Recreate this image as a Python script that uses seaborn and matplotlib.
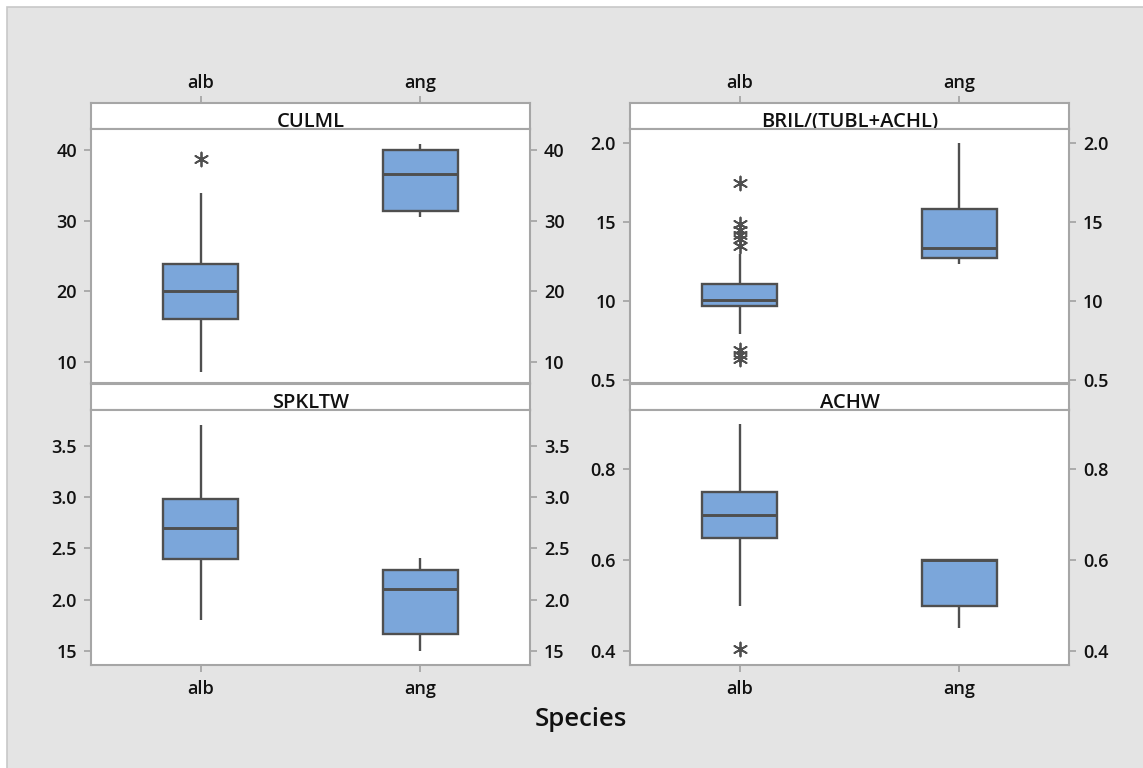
import numpy as np
import pandas as pd
import matplotlib
matplotlib.use("Agg")
import matplotlib.pyplot as plt
from matplotlib.patches import Rectangle
import seaborn as sns

species = ["alb", "ang"]
panel_names = ["CULML", "BRIL/(TUBL+ACHL)", "SPKLTW", "ACHW"]

# five-number summaries: low whisker, Q1, median, Q3, high whisker
culml_alb = [8.6, 16.1, 20.1, 23.8, 34.0]
culml_ang = [30.5, 31.4, 36.6, 40.0, 40.9]
bril_alb = [0.79, 0.966, 1.006, 1.108, 1.297]
bril_ang = [1.234, 1.272, 1.334, 1.582, 2.0]
spkltw_alb = [1.8, 2.4, 2.7, 2.98, 3.7]
spkltw_ang = [1.5, 1.67, 2.1, 2.29, 2.41]
achw_alb = [0.5, 0.65, 0.7, 0.75, 0.9]
achw_ang = [0.45, 0.5, 0.6, 0.6, 0.6]

# outliers (all in the alb group)
culml_out_alb = [38.8]
bril_out_alb = [1.75, 1.49, 1.45, 1.42, 1.39, 1.35, 0.69, 0.66, 0.63]
spkltw_out_alb = []
achw_out_alb = [0.405]

# y ticks and the labels as they are printed in the picture
culml_ticks = [10, 20, 30, 40]
culml_ticklabels = ["10", "20", "30", "40"]
bril_ticks = [0.5, 1.0, 1.5, 2.0]
bril_ticklabels = ["0.5", "10", "15", "2.0"]
spkltw_ticks = [1.5, 2.0, 2.5, 3.0, 3.5]
spkltw_ticklabels = ["15", "2.0", "2.5", "3.0", "3.5"]
achw_ticks = [0.4, 0.6, 0.8]
achw_ticklabels = ["0.4", "0.6", "0.8"]

sns.set_theme(style="white")
plt.rcParams["font.family"] = ["Open Sans", "DejaVu Sans"]
plt.rcParams["font.weight"] = "semibold"

BOX_BLUE = "#7BA6DA"
DARK = "#4F4F4F"
FRAME = "#A6A6A6"
TXT = "#111111"
TICK_FS = 13

W, H = 1143, 768
fig = plt.figure(figsize=(W / 100, H / 100), dpi=100)
fig.patch.set_facecolor("white")
# grey canvas with a thin border on the top and left edges only
fig.add_artist(Rectangle((7 / W, -0.05), 1.05, 1.05 - 7 / H, transform=fig.transFigure,
                         facecolor="#E4E4E4", edgecolor="#C8C8C8", linewidth=1.2, zorder=-5))


def rect(x0, y0, x1, y1):
    return [x0 / W, 1 - y1 / H, (x1 - x0) / W, (y1 - y0) / H]


def style_frame(ax):
    for s in ax.spines.values():
        s.set_visible(True)
        s.set_color(FRAME)
        s.set_linewidth(1.5)


def draw_panel(cols, rows, name, alb, ang, outliers, ylim, ticks, ticklabels, top_row):
    x0, x1 = cols
    sy0, py0, py1 = rows
    strip = fig.add_axes(rect(x0, sy0, x1, py0))
    ax = fig.add_axes(rect(x0, py0, x1, py1))

    df = pd.DataFrame({
        "Species": [species[0]] * len(alb) + [species[1]] * len(ang),
        "value": alb + ang,
    })
    sns.boxplot(data=df, x="Species", y="value", order=species, ax=ax,
                color=BOX_BLUE, saturation=1, width=0.34, whis=(0, 100),
                showcaps=False, showfliers=False, linecolor=DARK, linewidth=1.7,
                medianprops={"linewidth": 2.1, "color": DARK})
    if outliers:
        sns.stripplot(x=[species[0]] * len(outliers), y=outliers, order=species, ax=ax,
                      jitter=False, marker=(6, 2, 0), size=10, color=DARK,
                      edgecolor=DARK, linewidth=1.3)

    ax.set_xlim(-0.5, 1.5)
    ax.set_ylim(*ylim)
    ax.set_yticks(ticks)
    ax.set_yticklabels(ticklabels)
    ax.set_xlabel("")
    ax.set_ylabel("")
    ax.set_facecolor("white")
    style_frame(ax)
    ax.tick_params(axis="y", left=True, right=True, labelleft=True, labelright=True,
                   length=5, width=1.3, color=FRAME, labelsize=TICK_FS, labelcolor=TXT, pad=5)
    if top_row:
        ax.tick_params(axis="x", bottom=False, labelbottom=False)
    else:
        ax.tick_params(axis="x", bottom=True, labelbottom=True, length=5, width=1.3,
                       color=FRAME, labelsize=TICK_FS, labelcolor=TXT, pad=6)

    strip.set_xlim(-0.5, 1.5)
    strip.set_ylim(0, 1)
    strip.set_facecolor("white")
    style_frame(strip)
    strip.set_yticks([])
    if top_row:
        strip.set_xticks(range(len(species)))
        strip.set_xticklabels(species)
        strip.tick_params(axis="x", top=True, labeltop=True, bottom=False, labelbottom=False,
                          length=5, width=1.3, color=FRAME, labelsize=TICK_FS, labelcolor=TXT, pad=3)
    else:
        strip.set_xticks([])
    strip.text(0.5, 0.08, name, transform=strip.transAxes, ha="center", va="baseline",
               fontsize=14.5, color=TXT)


left_cols = (91, 530)
right_cols = (630, 1069)
top_rows = (103, 129, 383)
bottom_rows = (384, 410, 665)

draw_panel(left_cols, top_rows, panel_names[0], culml_alb, culml_ang, culml_out_alb,
           (7.0, 43.0), culml_ticks, culml_ticklabels, True)
draw_panel(right_cols, top_rows, panel_names[1], bril_alb, bril_ang, bril_out_alb,
           (0.481, 2.089), bril_ticks, bril_ticklabels, True)
draw_panel(left_cols, bottom_rows, panel_names[2], spkltw_alb, spkltw_ang, spkltw_out_alb,
           (1.364, 3.848), spkltw_ticks, spkltw_ticklabels, False)
draw_panel(right_cols, bottom_rows, panel_names[3], achw_alb, achw_ang, achw_out_alb,
           (0.369, 0.931), achw_ticks, achw_ticklabels, False)

fig.text(581 / W, 1 - 720 / H, "Species", ha="center", va="center", fontsize=18.5, color=TXT)

fig.savefig("out.png", dpi=100)
